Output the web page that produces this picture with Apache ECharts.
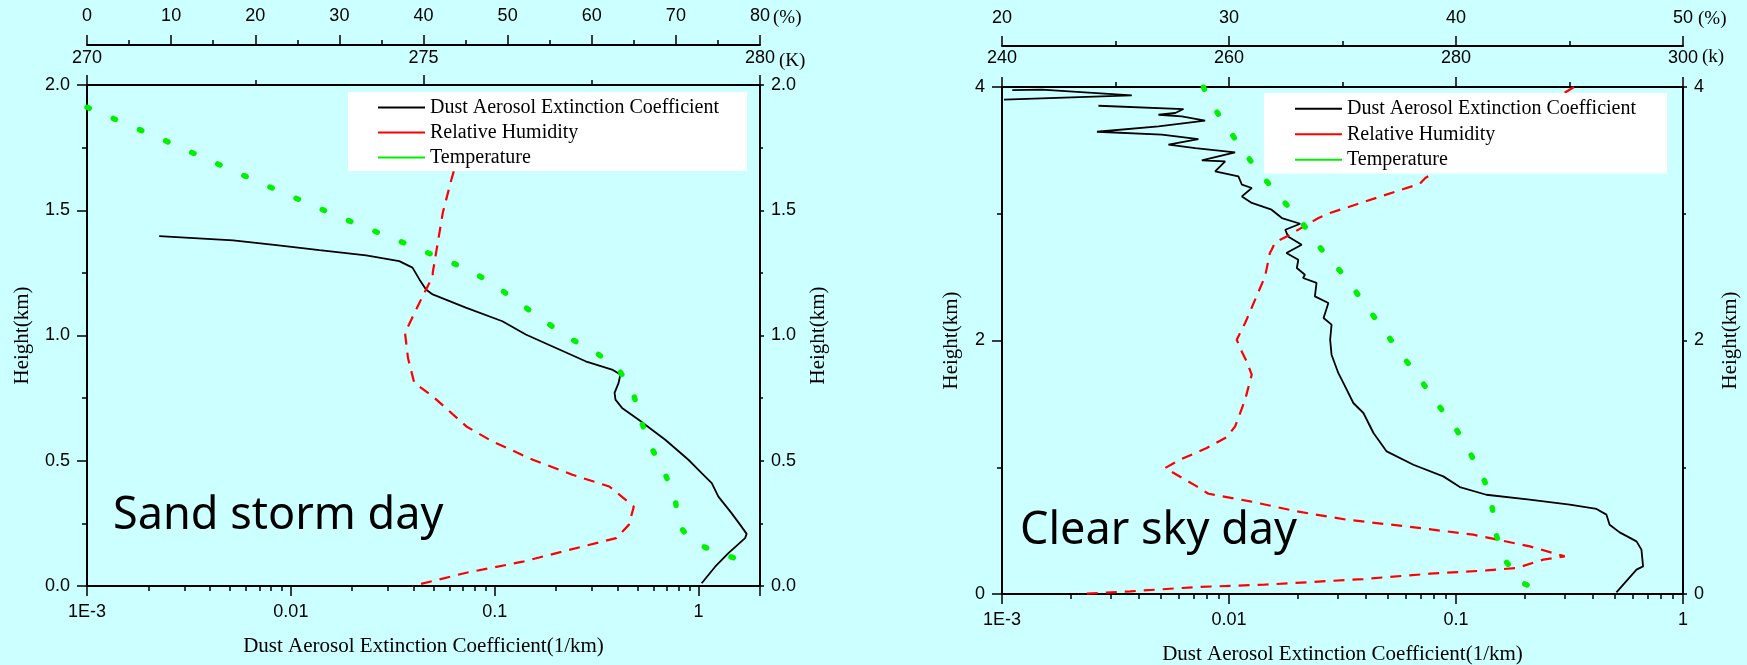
<!DOCTYPE html>
<html><head><meta charset="utf-8">
<script src="https://cdn.jsdelivr.net/npm/echarts@6/dist/echarts.min.js"></script>
<style>html,body{margin:0;padding:0;background:#ccffff}#c{width:1747px;height:665px}</style>
</head><body><div id="c"></div>
<script>
// ---------- Sand storm day ----------
const sandExtH = [1.397,1.380,1.361,1.341,1.320,1.297,1.271,1.224,1.184,1.164,1.111,1.057,1.004,0.957,0.897,0.864,0.844,0.811,0.771,0.744,0.711,0.664,0.584,0.504,0.451,0.411,0.357,0.291,0.244,0.208,0.191,0.131,0.077,0.011];
const sandExtV = [0.00226,0.00521,0.00849,0.0138,0.0234,0.0340,0.0395,0.0427,0.0460,0.0496,0.0721,0.109,0.142,0.191,0.279,0.376,0.413,0.405,0.387,0.391,0.421,0.508,0.686,0.891,1.035,1.16,1.25,1.45,1.60,1.72,1.69,1.40,1.205,1.035];
const sandRhH = [1.655,1.621,1.491,1.331,1.251,1.237,1.157,1.011,0.911,0.811,0.757,0.637,0.577,0.504,0.444,0.397,0.317,0.244,0.191,0.144,0.097,0.053,0.0];
const sandRh  = [43.6,43.3,42.3,41.5,41.1,41.1,39.9,37.8,38.15,38.9,41.1,45.1,48.2,53.0,57.7,62.1,65.0,64.4,62.9,57.3,51.8,45.1,38.7];
const sandTH = [1.911,1.784,1.603,1.471,1.347,1.304,1.264,1.200,1.127,1.055,0.987,0.931,0.857,0.757,0.653,0.551,0.448,0.348,0.244,0.175,0.133,0.097];
const sandT  = [270.0,271.11,272.63,273.77,274.92,275.29,275.67,276.06,276.44,276.81,277.19,277.57,277.92,278.13,278.24,278.39,278.59,278.74,278.79,279.0,279.38,279.78];

// ---------- Clear sky day ----------
const clearExtH = [3.976,3.979,3.934,3.900,null,3.852,3.826,3.795,3.781,3.768,3.734,3.689,3.647,3.624,3.589,3.545,3.518,3.484,3.421,3.413,3.334,3.295,3.229,3.203,3.137,3.085,3.032,2.966,2.921,2.874,2.821,2.756,2.690,2.637,2.572,2.519,2.493,2.454,2.348,2.296,2.178,2.125,2.006,1.888,1.744,1.665,1.507,1.428,1.270,1.125,1.020,0.928,0.844,0.783,0.744,0.705,0.671,0.626,0.547,0.486,0.415,0.350,0.218,0.192,0.013];
const clearExtV = [0.00111,0.00150,0.00373,0.00102,null,0.00266,0.00630,0.00580,0.00489,0.00619,0.00785,0.00489,0.00262,0.00506,0.00733,0.00541,0.00710,0.01064,0.00759,0.00962,0.00869,0.0110,0.0114,0.0126,0.0114,0.0126,0.0154,0.0171,0.0206,0.0177,0.0182,0.0209,0.0179,0.0202,0.0199,0.0216,0.0212,0.0243,0.0239,0.0274,0.0261,0.0283,0.0279,0.0283,0.0303,0.0319,0.0353,0.0391,0.0433,0.0495,0.0649,0.0879,0.104,0.136,0.211,0.317,0.416,0.460,0.475,0.526,0.624,0.656,0.667,0.624,0.509];
const clearRhH = [4.0,3.282,3.237,3.006,2.966,2.821,2.774,2.716,2.690,2.506,2.322,2.138,2.006,1.914,1.835,1.730,1.533,1.322,1.238,1.152,1.060,0.994,0.849,0.791,0.731,0.652,0.586,0.533,0.468,0.376,0.297,0.271,0.205,0.186,0.160,0.118,0.073,0.055,0.021,0.0];
const clearRh  = [45.2,38.65,38.41,34.45,33.94,32.54,32.03,31.88,31.8,31.59,31.15,30.71,30.34,30.56,30.78,31.0,30.71,30.27,29.9,29.02,27.85,27.19,28.58,29.09,30.93,32.98,35.19,37.83,40.76,43.25,44.79,43.84,42.67,41.35,38.85,35.92,31.51,28.58,25.65,23.37];
const clearTH = [4.0,3.953,3.747,3.545,3.342,3.137,2.927,2.724,2.519,2.316,2.111,1.906,1.704,1.501,1.296,1.091,0.888,0.683,0.481,0.276,0.087,0.0];
const clearT  = [257.75,257.98,259.3,260.9,262.5,264.44,266.46,268.1,270.07,271.74,273.4,275.06,276.76,278.35,280.05,281.37,282.54,283.19,283.49,284.24,285.86,288.1];

// ---------- labels ----------
const seriesNames = ['Dust Aerosol Extinction Coefficient','Relative Humidity','Temperature'];
const logTickLabels = ['1E-3','0.01','0.1','1'];
const panelTexts = ['Sand storm day','Clear sky day'];
const xTitle = 'Dust Aerosol Extinction Coefficient(1/km)';
const yTitle = 'Height(km)';

const SERIF = '"Liberation Serif","Times New Roman",serif';
const SANS = '"Liberation Sans",Arial,sans-serif';
const BLK = '#000';
const GREEN = '#00f000';
const RED = '#ff0000';

const pairs = (xs, ys) => xs.map((x, i) => (x === null || ys[i] === null) ? ['-', '-'] : [x, ys[i]]);

function logLabel(v) {
  const l = Math.log10(v), e = Math.round(l);
  if (Math.abs(l - e) > 1e-6) return '';
  return logTickLabels[e + 3] || '';
}
function minorLogTicks(maxLog) {
  const out = [];
  for (let n = -3; n <= 0; n++) for (let k = 2; k <= 9; k++) {
    const v = Math.log10(k) + n;
    if (v <= maxLog + 1e-9) out.push(v);
  }
  return out;
}

const axLine = {onZero: false, lineStyle: {color: BLK, width: 2}};
const tickSt = {color: BLK, width: 1.5};
const lbl = (m, extra) => Object.assign({margin: m, fontSize: 18, color: BLK, fontFamily: SANS}, extra || {});

function xAxesFor(g, logMax, kMin, kMax, kInt, pMin, pMax, pInt, kMargin, pMargin, pOffset, titleGap) {
  return [
    {gridIndex: g, type: 'log', logBase: 10, min: 0.001, max: logMax, position: 'bottom',
      axisLine: axLine, axisTick: {length: 10, lineStyle: tickSt},
      axisLabel: lbl(17, {formatter: logLabel}), splitLine: {show: false},
      name: xTitle, nameLocation: 'middle', nameGap: titleGap,
      nameTextStyle: {fontFamily: SERIF, fontSize: 21, color: BLK}},
    {gridIndex: g, type: 'value', min: -3, max: Math.log10(logMax), position: 'bottom',
      axisLine: {show: false, onZero: false},
      axisTick: {show: true, length: 5, lineStyle: tickSt, customValues: minorLogTicks(Math.log10(logMax))},
      axisLabel: {show: false}, splitLine: {show: false}},
    {gridIndex: g, type: 'value', min: kMin, max: kMax, interval: kInt, position: 'top', offset: 0,
      axisLine: axLine, axisTick: {length: 10, lineStyle: tickSt},
      minorTick: {show: true, splitNumber: 2, length: 5, lineStyle: tickSt},
      axisLabel: lbl(kMargin), splitLine: {show: false}, minorSplitLine: {show: false}},
    {gridIndex: g, type: 'value', min: pMin, max: pMax, interval: pInt, position: 'top', offset: pOffset,
      axisLine: axLine, axisTick: {length: 10, lineStyle: tickSt},
      minorTick: {show: true, splitNumber: 2, length: 5, lineStyle: tickSt},
      axisLabel: lbl(pMargin), splitLine: {show: false}, minorSplitLine: {show: false}}
  ];
}
function yAxesFor(g, max, interval, fmt, gapL, gapR) {
  const base = (pos, m, gap, tl, mtl) => ({gridIndex: g, type: 'value', min: 0, max: max, interval: interval, position: pos,
    axisLine: axLine, axisTick: {length: tl, lineStyle: tickSt},
    minorTick: {show: true, splitNumber: 2, length: mtl, lineStyle: tickSt},
    axisLabel: lbl(m, {formatter: fmt}), splitLine: {show: false}, minorSplitLine: {show: false},
    name: yTitle, nameLocation: 'middle', nameGap: gap, nameRotate: 90,
    nameTextStyle: {fontFamily: SERIF, fontSize: 21, color: BLK}});
  return [base('left', 17, gapL, 10, 5), base('right', 11, gapR, 4, 3)];
}

const extLine = {color: BLK, width: 1.8, type: 'solid'};
const rhLine = {color: RED, width: 2.2, type: [11, 8]};
const tLine = {color: GREEN, width: 5.5, type: [2.5, 26], cap: 'round'};
function mkSeries(name, color, ls, xi, yi, data) {
  return {name: name, type: 'line', xAxisIndex: xi, yAxisIndex: yi, data: data, showSymbol: false, symbol: 'none',
    color: color, itemStyle: {color: color}, lineStyle: ls, connectNulls: false, smooth: false, z: 2};
}

function legendFor(left, top, pad, lh) {
  return {data: seriesNames, orient: 'vertical', left: left, top: top, padding: pad, backgroundColor: '#ffffff',
    itemWidth: 47, itemHeight: 2, itemGap: 0, icon: 'rect', selectedMode: false,
    itemStyle: {borderWidth: 0}, lineStyle: {type: 'solid'},
    textStyle: {fontFamily: SERIF, fontSize: 20, color: BLK, lineHeight: lh}};
}

const option = {
  backgroundColor: '#ccffff',
  animation: false,
  grid: [
    {left: 87, top: 85, width: 673, height: 501, containLabel: false, outerBoundsMode: 'none'},
    {left: 1002, top: 87, width: 681, height: 507, containLabel: false, outerBoundsMode: 'none'}
  ],
  xAxis: [].concat(
    xAxesFor(0, 2, 270, 280, 5, 0, 80, 10, 18, 20, 40, 50),
    xAxesFor(1, 1, 240, 300, 20, 20, 50, 10, 20, 19, 41, 50)
  ),
  yAxis: [].concat(
    yAxesFor(0, 2, 0.5, v => v.toFixed(1), 54, 48),
    yAxesFor(1, 4, 2, v => String(v), 40, 37)
  ),
  legend: [
    legendFor(348, 92, [3, 28, 1, 30], 25),
    legendFor(1264, 93, [3, 31, 1, 31], 25.5)
  ],
  series: [
    mkSeries(seriesNames[0], BLK, extLine, 0, 0, pairs(sandExtV, sandExtH)),
    mkSeries(seriesNames[1], RED, rhLine, 3, 0, pairs(sandRh, sandRhH)),
    mkSeries(seriesNames[2], GREEN, tLine, 2, 0, pairs(sandT, sandTH)),
    mkSeries(seriesNames[0], BLK, extLine, 4, 2, pairs(clearExtV, clearExtH)),
    mkSeries(seriesNames[1], RED, rhLine, 7, 2, pairs(clearRh, clearRhH)),
    mkSeries(seriesNames[2], GREEN, tLine, 6, 2, pairs(clearT, clearTH))
  ],
  graphic: [
    {type: 'text', x: 113, y: 516, style: {text: panelTexts[0], font: '45px "Noto Sans"', fill: BLK, align: 'left', verticalAlign: 'middle'}},
    {type: 'text', x: 1020, y: 531, style: {text: panelTexts[1], font: '45px "Noto Sans"', fill: BLK, align: 'left', verticalAlign: 'middle'}},
    {type: 'text', x: 773, y: 18, style: {text: '(%)', font: '19px "Liberation Serif"', fill: BLK, align: 'left', verticalAlign: 'middle'}},
    {type: 'text', x: 779, y: 61, style: {text: '(K)', font: '19px "Liberation Serif"', fill: BLK, align: 'left', verticalAlign: 'middle'}},
    {type: 'text', x: 1698, y: 19, style: {text: '(%)', font: '19px "Liberation Serif"', fill: BLK, align: 'left', verticalAlign: 'middle'}},
    {type: 'text', x: 1702, y: 57, style: {text: '(k)', font: '19px "Liberation Serif"', fill: BLK, align: 'left', verticalAlign: 'middle'}}
  ]
};

const chart = echarts.init(document.getElementById('c'), null, {renderer: 'canvas'});
chart.setOption(option);
</script>
</body></html>
